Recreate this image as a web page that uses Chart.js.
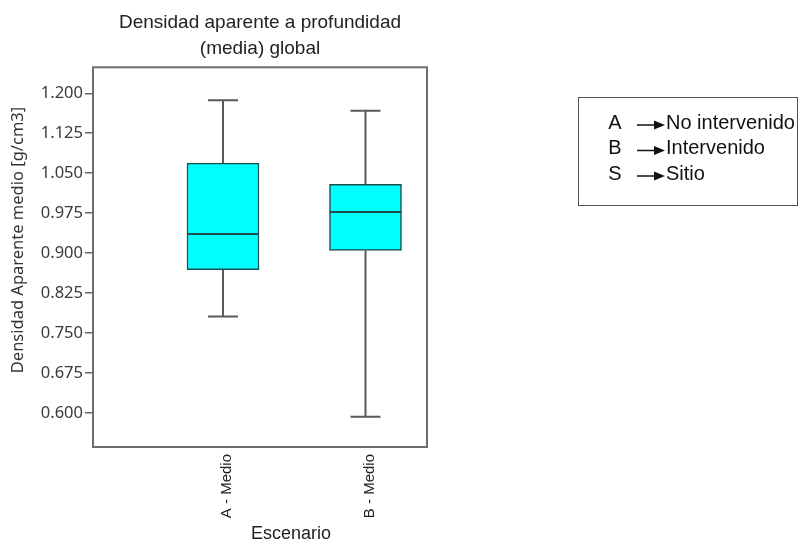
<!DOCTYPE html>
<html>
<head>
<meta charset="utf-8">
<title>Densidad aparente</title>
<script src="https://cdn.jsdelivr.net/npm/chart.js@4.4.1/dist/chart.umd.min.js"></script>
<style>
  html, body { margin: 0; padding: 0; background: #fff; }
  #wrap { position: relative; width: 801px; height: 542px; }
</style>
</head>
<body>
<div id="wrap"><canvas id="box-graph" width="801" height="542"></canvas></div>
<script>
// escenarios y resumen de cinco numeros de cada caja
var escenarios = ['A - Medio', 'B - Medio'];
var posiciones = [1, 2];
var minimos  = [0.781, 0.593];
var cuartil1 = [0.869, 0.905];
var medianas = [0.936, 0.977];
var cuartil3 = [1.069, 1.029];
var maximos  = [1.187, 1.167];

var yTicks = [0.600, 0.675, 0.750, 0.825, 0.900, 0.975, 1.050, 1.125, 1.200];

var leyendaLetras = ['A', 'B', 'S'];
var leyendaTextos = ['No intervenido', 'Intervenido', 'Sitio'];

Chart.defaults.font.family = '"Liberation Sans", Arial, sans-serif';

// bigotes, medianas, marco, titulos de ejes y recuadro de leyenda
var boxPlugin = {
  id: 'boxExtras',
  afterDatasetsDraw: function (chart) {
    var ctx = chart.ctx;
    var x = chart.scales.x, y = chart.scales.y;
    ctx.save();
    for (var i = 0; i < posiciones.length; i++) {
      var px = x.getPixelForValue(posiciones[i]);
      var capW = 15;
      ctx.strokeStyle = '#5a5a5a';
      ctx.lineWidth = 2;
      ctx.beginPath();
      ctx.moveTo(px, y.getPixelForValue(cuartil3[i]));
      ctx.lineTo(px, y.getPixelForValue(maximos[i]));
      ctx.moveTo(px, y.getPixelForValue(cuartil1[i]));
      ctx.lineTo(px, y.getPixelForValue(minimos[i]));
      ctx.moveTo(px - capW, y.getPixelForValue(maximos[i]));
      ctx.lineTo(px + capW, y.getPixelForValue(maximos[i]));
      ctx.moveTo(px - capW, y.getPixelForValue(minimos[i]));
      ctx.lineTo(px + capW, y.getPixelForValue(minimos[i]));
      ctx.stroke();

      var half = 36;
      ctx.strokeStyle = '#1d4d4d';
      ctx.beginPath();
      ctx.moveTo(px - half, y.getPixelForValue(medianas[i]));
      ctx.lineTo(px + half, y.getPixelForValue(medianas[i]));
      ctx.stroke();
    }
    ctx.restore();
  },
  afterDraw: function (chart) {
    var ctx = chart.ctx;
    var a = chart.chartArea;
    ctx.save();
    // marco del area de grafico
    ctx.strokeStyle = '#6e6e6e';
    ctx.lineWidth = 2;
    ctx.strokeRect(a.left, a.top, a.right - a.left, a.bottom - a.top);

    // titulo eje y
    ctx.fillStyle = '#333';
    ctx.font = '16.5px "Noto Sans", "DejaVu Sans", sans-serif';
    ctx.textAlign = 'center';
    ctx.textBaseline = 'middle';
    ctx.translate(18, 240);
    ctx.rotate(-Math.PI / 2);
    ctx.fillText('Densidad Aparente medio [g/cm3]', 0, 0);
    ctx.restore();

    // titulo eje x
    ctx.save();
    ctx.fillStyle = '#222';
    ctx.font = '18px "Liberation Sans", Arial, sans-serif';
    ctx.textAlign = 'center';
    ctx.textBaseline = 'middle';
    ctx.fillText('Escenario', 291, 534);
    ctx.restore();

    // recuadro con las claves de escenario
    ctx.save();
    ctx.strokeStyle = '#555';
    ctx.lineWidth = 1;
    ctx.strokeRect(578.5, 97.5, 219, 108);
    ctx.fillStyle = '#111';
    ctx.strokeStyle = '#111';
    ctx.font = '20px "Liberation Sans", Arial, sans-serif';
    ctx.textBaseline = 'middle';
    for (var k = 0; k < leyendaLetras.length; k++) {
      var ry = 123 + k * 25.5;
      ctx.textAlign = 'center';
      ctx.fillText(leyendaLetras[k], 615, ry);
      ctx.lineWidth = 1.5;
      ctx.beginPath();
      ctx.moveTo(637, ry + 2);
      ctx.lineTo(656, ry + 2);
      ctx.stroke();
      ctx.beginPath();
      ctx.moveTo(665, ry + 2);
      ctx.lineTo(654, ry - 2.5);
      ctx.lineTo(654, ry + 6.5);
      ctx.closePath();
      ctx.fill();
      ctx.textAlign = 'left';
      ctx.fillText(leyendaTextos[k], 666, ry);
    }
    ctx.restore();
  }
};

var cajas = posiciones.map(function (p, i) {
  return { x: p, y: [cuartil1[i], cuartil3[i]] };
});

new Chart(document.getElementById('box-graph'), {
  type: 'bar',
  data: {
    datasets: [{
      label: 'Densidad aparente',
      data: cajas,
      backgroundColor: '#00ffff',
      borderColor: '#1d4d4d',
      borderWidth: 1.5,
      borderSkipped: false,
      barThickness: 72
    }]
  },
  options: {
    responsive: false,
    animation: false,
    devicePixelRatio: 1,
    layout: { padding: { left: 0, right: 374, top: 0, bottom: 0 } },
    plugins: {
      legend: { display: false },
      tooltip: { enabled: false },
      title: {
        display: true,
        fullSize: false,
        text: ['Densidad aparente a profundidad', '(media) global'],
        color: '#222',
        font: { size: 19, weight: 'normal', lineHeight: 1.35 },
        padding: { top: 10, bottom: 6 }
      }
    },
    scales: {
      x: {
        type: 'linear',
        offset: false,
        min: 0.0877,
        max: 2.4316,
        afterBuildTicks: function (scale) {
          scale.ticks = posiciones.map(function (p) { return { value: p }; });
        },
        afterFit: function (scale) { scale.height = 95; },
        grid: { display: false, drawTicks: false, offset: false },
        border: { display: false },
        ticks: {
          autoSkip: false,
          maxRotation: 90,
          minRotation: 90,
          padding: 7,
          labelOffset: 4,
          color: '#222',
          font: { size: 15 },
          callback: function (v) { return escenarios[posiciones.indexOf(v)]; }
        }
      },
      y: {
        min: 0.53625,
        max: 1.24875,
        afterBuildTicks: function (scale) {
          scale.ticks = yTicks.map(function (v) { return { value: v }; });
        },
        afterFit: function (scale) { scale.width = 93; },
        grid: { drawOnChartArea: false, drawTicks: true, tickLength: 8, color: '#666', lineWidth: 1.5 },
        border: { display: false },
        ticks: {
          padding: 2,
          color: '#3a3a3a',
          font: { family: '"Noto Sans", "DejaVu Sans", sans-serif', size: 16.5 },
          callback: function (v) { return Number(v).toFixed(3); }
        }
      }
    }
  },
  plugins: [boxPlugin]
});
</script>
</body>
</html>
